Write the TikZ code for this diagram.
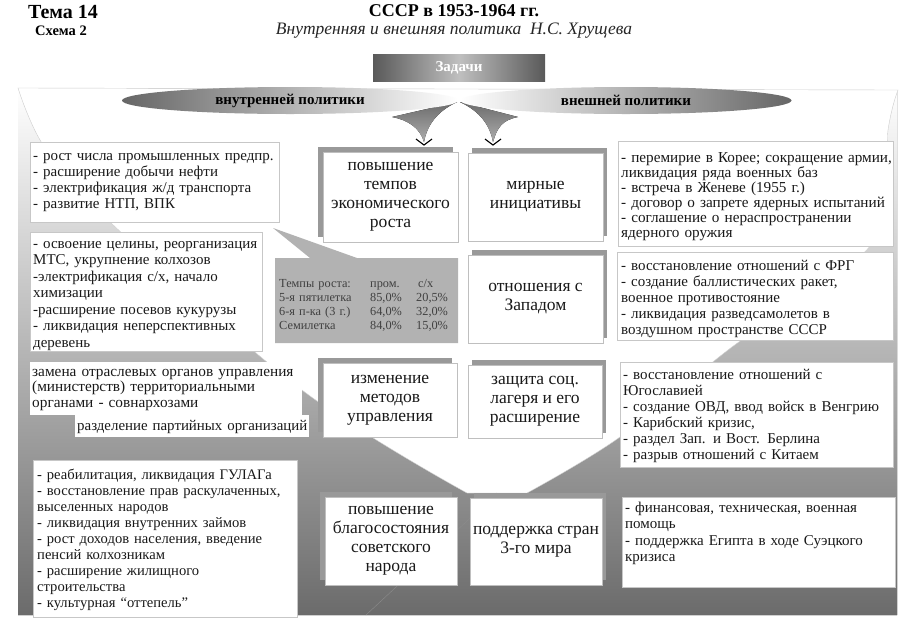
\documentclass[tikz,border=0pt]{standalone}
\usepackage{fontspec}
\setmainfont{Liberation Serif}
\usetikzlibrary{shapes.geometric,shadows}
\begin{document}
\begin{tikzpicture}[x=1pt,y=-1pt,
  sbox/.style={draw=black!22, fill=white, line width=0.6pt, inner sep=0pt, anchor=north west},
  stxt/.style={anchor=base west, inner sep=0pt, align=left, text width=#1, text=black!90},
  cbox/.style={draw=black!25, fill=white, line width=0.6pt, inner sep=1pt, align=center, text=black!90, font=\fontsize{17.5}{19}\selectfont},
  lshadow/.style={drop shadow={shadow xshift=-5pt,shadow yshift=5pt,fill=black!40,opacity=1}},
  rshadow/.style={drop shadow={shadow xshift=4pt,shadow yshift=5pt,fill=black!40,opacity=1}},
  hdr/.style={inner sep=0pt, font=\bfseries\fontsize{#1}{#1}\selectfont},
  chev/.style={draw=black, line width=1.1pt},
]
\useasboundingbox (0,0) rectangle (908,619);
\fill[white] (0,0) rectangle (908,619);
% background
\fill[top color=white, bottom color=black!58] (18,88) -- (18,615) -- (897,615) -- (897,92) -- cycle;
\fill[white, draw=black!20, line width=0.4pt] plot[smooth, tension=0.6] coordinates {(18,88) (45,148) (110,222) (302,390) (467,493)} -- (527,493) -- plot[smooth, tension=0.6] coordinates {(527,493) (620,437) (728,350) (875,240) (888,130) (898,90)} -- cycle;
\draw[black!45, line width=0.4pt] (497,493) -- (366,615);

% header
\node[hdr=20] (tema) at (63,12) {Тема 14};
\node[hdr=14.5] (shema) at (61,31) {Схема 2};
\node[hdr=18] (title) at (454,11) {СССР в 1953-1964 гг.};
\node[inner sep=0pt, font=\itshape\fontsize{17.5}{17.5}\selectfont, text=black!85] (sub) at (454,31) {Внутренняя и внешняя политика\ \ Н.С. Хрущева};

% tasks box
\node[minimum width=172pt, minimum height=27pt, inner sep=0pt, left color=black!65, right color=black!65, middle color=black!25, text=white, font=\bfseries\fontsize{15}{15}\selectfont] (tasks) at (459,67.5) {Задачи};

% small funnels
\fill[top color=black!58, bottom color=black!32] (392,117) .. controls (408,120) and (420,128) .. (424,142) .. controls (427,126) and (436,112) .. (457,102) -- cycle;
\fill[top color=black!58, bottom color=black!32] (518,117) .. controls (502,120) and (497,128) .. (493,142) .. controls (490,126) and (481,112) .. (460,102) -- cycle;
\coordinate (c1) at (424,145);
\coordinate (c2) at (493,145);
\draw[chev] ([xshift=-8pt,yshift=6pt]c1) -- (c1) -- ([xshift=8pt,yshift=6pt]c1);
\draw[chev] ([xshift=-8pt,yshift=6pt]c2) -- (c2) -- ([xshift=8pt,yshift=6pt]c2);

% ellipses
\node[ellipse, minimum width=336pt, minimum height=27pt, inner sep=0pt, left color=black!60, right color=white, font=\bfseries\fontsize{15}{15}\selectfont] (inner) at (290,100.5) {внутренней политики};
\node[ellipse, minimum width=331pt, minimum height=27pt, inner sep=0pt, left color=white, right color=black!60, font=\bfseries\fontsize{15}{15}\selectfont] (outer) at (626,100.5) {внешней политики};

% stats callout
\fill[black!30] (275,258) -- (310,258) -- (273,228) -- (357,258) -- (458,258) -- (458,343) -- (275,343) -- cycle;
\node[anchor=base west, inner sep=0pt, align=left, text width=180pt, text=black!75, font=\fontsize{12.3}{14}\selectfont] (stats) at (279,287)
 {\makebox[91pt][l]{Темпы роста:}\makebox[46pt][l]{пром.}\hspace{2pt}с/х\\
  \makebox[91pt][l]{5-я пятилетка}\makebox[46pt][l]{85,0\%}20,5\%\\
  \makebox[91pt][l]{6-я п-ка (3 г.)}\makebox[46pt][l]{64,0\%}32,0\%\\
  \makebox[91pt][l]{Семилетка}\makebox[46pt][l]{84,0\%}15,0\%};

% centre boxes
\node[cbox, lshadow, minimum width=135pt, minimum height=90pt] (c11) at (390.5,197) {повышение\\темпов\\экономического\\роста};
\node[cbox, rshadow, minimum width=135pt, minimum height=88pt] (c12) at (535.5,197) {мирные\\инициативы};
\node[cbox, rshadow, minimum width=135pt, minimum height=88pt] (c22) at (535.5,299) {отношения с\\Западом};
\node[cbox, lshadow, minimum width=134pt, minimum height=74pt] (c31) at (390,400) {изменение\\методов\\управления};
\node[cbox, rshadow, minimum width=134pt, minimum height=73pt] (c32) at (535,401.5) {защита соц.\\лагеря и его\\расширение};
\node[cbox, lshadow, minimum width=132pt, minimum height=88pt] (c41) at (391,541) {повышение\\благосостояния\\советского\\народа};
\node[cbox, rshadow, minimum width=132pt, minimum height=87pt] (c42) at (536,541.5) {поддержка стран\\3-го мира};

% left boxes
\node[sbox, minimum width=249pt, minimum height=80pt] (l1) at (30,142) {};
\node[stxt=246pt, font=\fontsize{15}{16}\selectfont] (l1t) at (33,160) {- рост числа промышленных предпр.\\- расширение добычи нефти\\- электрификация ж/д транспорта\\- развитие НТП, ВПК};
\node[sbox, minimum width=232pt, minimum height=119pt] (l2) at (30,232) {};
\node[stxt=230pt, font=\fontsize{15}{16.5}\selectfont] (l2t) at (33,248) {- освоение целины, реорганизация\\МТС, укрупнение колхозов\\-электрификация с/х, начало\\химизации\\-расширение посевов кукурузы\\- ликвидация неперспективных\\деревень};
\node[sbox, draw=none, minimum width=272pt, minimum height=53pt] (l3) at (30,362) {};
\node[stxt=280pt, font=\fontsize{15.3}{15.5}\selectfont] (l3t) at (32,376) {замена отраслевых органов управления\\(министерств) территориальными\\органами - совнархозами};
\node[sbox, draw=none, minimum width=234pt, minimum height=22pt] (l4) at (75,415) {};
\node[stxt=280pt, font=\fontsize{14.9}{16}\selectfont] (l4t) at (77,430) {разделение партийных организаций};
\node[sbox, minimum width=264pt, minimum height=157pt] (l5) at (33,460) {};
\node[stxt=270pt, font=\fontsize{14.6}{16.1}\selectfont] (l5t) at (37,479) {- реабилитация, ликвидация ГУЛАГа\\- восстановление прав раскулаченных,\\выселенных народов\\- ликвидация внутренних займов\\- рост доходов населения, введение\\пенсий колхозникам\\- расширение жилищного\\строительства\\- культурная “оттепель”};

% right boxes
\node[sbox, minimum width=275pt, minimum height=105pt] (r1) at (618,141) {};
\node[stxt=280pt, font=\fontsize{15.2}{15}\selectfont] (r1t) at (621,162) {- перемирие в Корее; сокращение армии,\\ликвидация ряда военных баз\\- встреча в Женеве (1955 г.)\\- договор о запрете ядерных испытаний\\- соглашение о нераспространении\\ядерного оружия};
\node[sbox, minimum width=276pt, minimum height=88pt] (r2) at (617,252) {};
\node[stxt=280pt, font=\fontsize{15}{16}\selectfont] (r2t) at (621,270) {- восстановление отношений с ФРГ\\- создание баллистических ракет,\\военное противостояние\\- ликвидация разведсамолетов в\\воздушном пространстве СССР};
\node[sbox, minimum width=273pt, minimum height=105pt] (r3) at (620,362) {};
\node[stxt=280pt, font=\fontsize{15}{16}\selectfont] (r3t) at (623,379) {- восстановление отношений с\\Югославией\\- создание ОВД, ввод войск в Венгрию\\- Карибский кризис,\\- раздел Зап. и Вост. Берлина\\- разрыв отношений с Китаем};
\node[sbox, minimum width=273pt, minimum height=90pt] (r4) at (622,497) {};
\node[stxt=280pt, font=\fontsize{15}{16.5}\selectfont] (r4t) at (625,512) {- финансовая, техническая, военная\\помощь\\- поддержка Египта в ходе Суэцкого\\кризиса};
\end{tikzpicture}
\end{document}
